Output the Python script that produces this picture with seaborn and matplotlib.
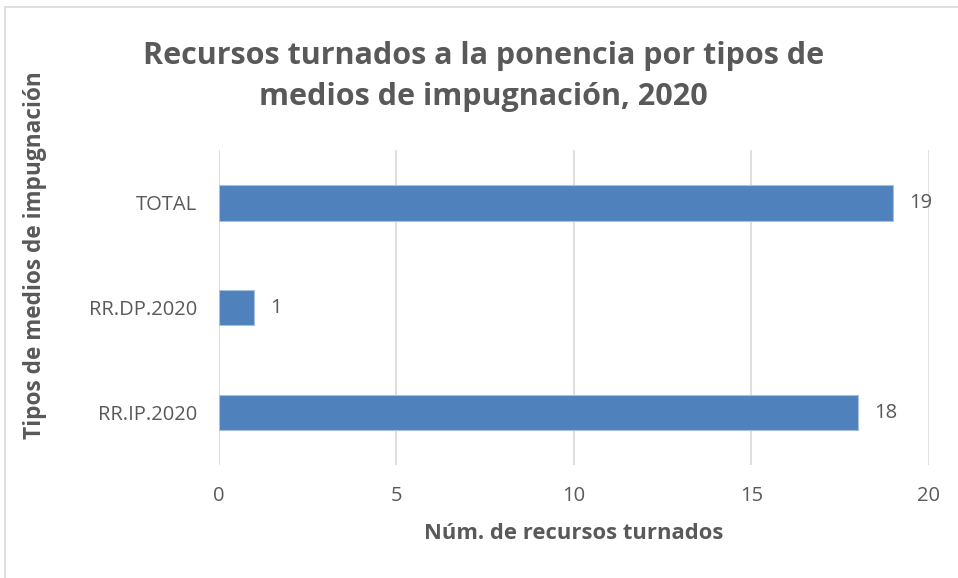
import matplotlib
matplotlib.use("Agg")
import matplotlib.pyplot as plt
import seaborn as sns
import pandas as pd
from matplotlib.patches import Rectangle

categories = ["TOTAL", "RR.DP.2020", "RR.IP.2020"]
values = [19, 1, 18]
xticks = [0, 5, 10, 15, 20]

df = pd.DataFrame({"tipo": categories, "recursos": values})

sns.set_theme(style="white")
plt.rcParams["font.family"] = ["Open Sans", "DejaVu Sans"]
grey = "#595959"

fig = plt.figure(figsize=(9.58, 5.78), dpi=100)
ax = fig.add_axes([0.2286, 0.1955, 0.7411, 0.5445])

sns.barplot(data=df, y="tipo", x="recursos", orient="h", color="#4F81BD",
            saturation=1, width=0.34, edgecolor="#A7C0E0", linewidth=0.8,
            ax=ax, zorder=3)

ax.set_xlim(0, 20)
ax.set_xticks(xticks)
ax.grid(axis="x", color="#D9D9D9", linewidth=1.2, zorder=0)
for s in ax.spines.values():
    s.set_visible(False)
ax.tick_params(axis="both", length=0, labelsize=14.5, labelcolor=grey)
ax.tick_params(axis="y", pad=16)
ax.tick_params(axis="x", pad=15)

for i, v in enumerate(values):
    ax.text(v + 0.45, i, str(v), va="center", ha="left", fontsize=14.5, color=grey)

ax.set_xlabel("Núm. de recursos turnados", fontsize=15.8, fontweight="bold",
              color=grey)
ax.xaxis.set_label_coords(0.5, -0.185)
ax.set_ylabel("Tipos de medios de impugnación", fontsize=16.3, fontweight="bold",
              color=grey)
ax.yaxis.set_label_coords(-0.242, 0.667)

fig.text(0.505, 0.868, "Recursos turnados a la ponencia por tipos de\nmedios de impugnación, 2020",
         ha="center", va="center", fontsize=22, fontweight="bold", color=grey,
         linespacing=1.5)

fig.patches.append(Rectangle((0.005, -0.1), 1.1, 1.088, transform=fig.transFigure,
                             fill=False, edgecolor="#D9D9D9", linewidth=1.2))

fig.savefig("out.png", dpi=100)
